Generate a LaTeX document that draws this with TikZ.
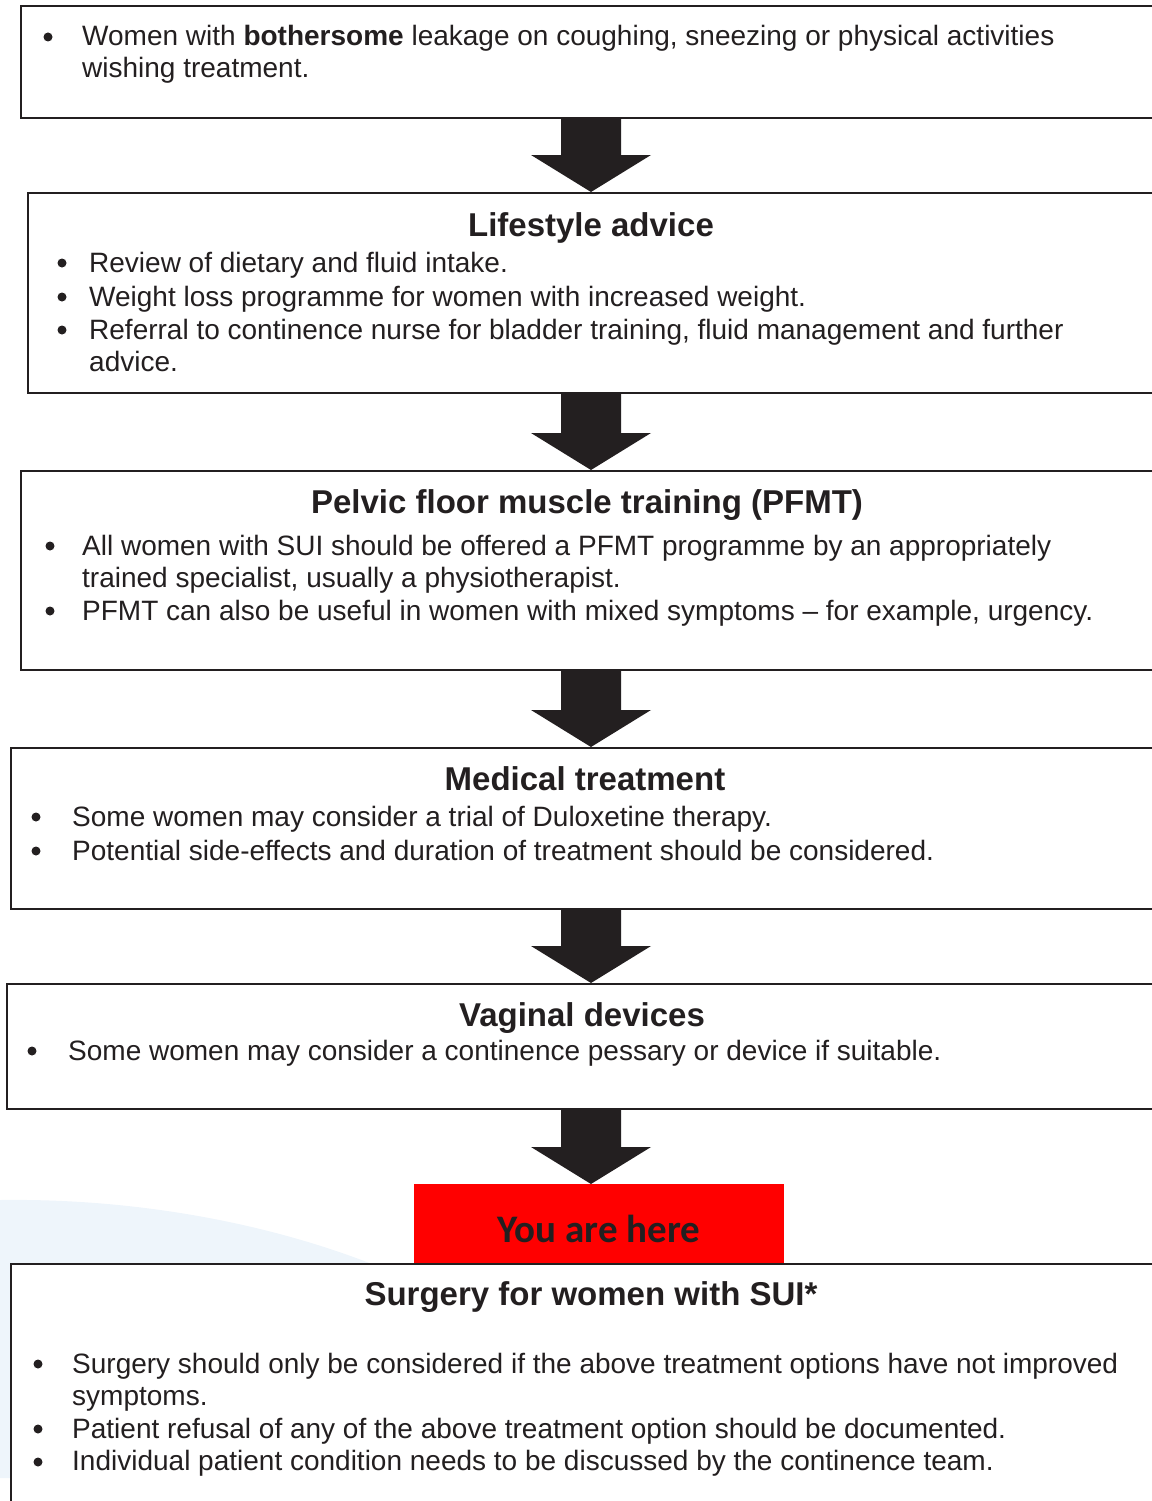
\documentclass[tikz,border=0pt]{standalone}
\usepackage{fontspec}
\setmainfont{Liberation Sans}
\newfontfamily\carl{Carlito}
\usetikzlibrary{calc}
\definecolor{ink}{HTML}{231F20}
\definecolor{paleblue}{HTML}{EEF5FB}
\definecolor{alarm}{HTML}{FF0000}
\tikzset{
  flowbox/.style={draw=ink, line width=2pt, fill=white, rectangle, anchor=north west, inner sep=0pt},
  bodytext/.style={anchor=base west, inner sep=0pt, text=ink, font=\fontsize{28}{33}\selectfont},
  headtext/.style={anchor=base, inner sep=0pt, text=ink, font=\fontsize{33}{38}\selectfont\bfseries},
  bulletdot/.style={circle, fill=ink, inner sep=0pt, minimum size=9pt},
  herebox/.style={fill=alarm, rectangle, anchor=north west, inner sep=0pt},
  heretext/.style={anchor=base, inner sep=0pt, text=ink, font=\carl\fontsize{39}{44}\selectfont\bfseries}
}
\newcommand{\bigdownarrow}[2]{%
  \fill[ink] let \p1=(#1.south -| ax), \p2=(#2.north -| ax) in
    (\x1-30pt,\y1) -- (\x1+30pt,\y1) -- (\x1+30pt,\y2+37pt) -- (\x1+60pt,\y2+37pt)
    -- (\x2,\y2) -- (\x1-60pt,\y2+37pt) -- (\x1-30pt,\y2+37pt) -- cycle;}
\begin{document}
\begin{tikzpicture}[x=1pt,y=-1pt]
\useasboundingbox (0,0) rectangle (1151,1501);
\coordinate (ax) at (591,0);
% pale background shape
\fill[paleblue] (0,1200) .. controls (150,1198) and (280,1228) .. (372,1264) -- (372,1478) -- (0,1478) -- cycle;

% boxes
\node[flowbox, minimum width=1140pt, minimum height=112pt] (b1) at (20,5) {};
\node[flowbox, minimum width=1133pt, minimum height=200pt] (b2) at (27,192) {};
\node[flowbox, minimum width=1140pt, minimum height=199pt] (b3) at (20,470) {};
\node[flowbox, minimum width=1150pt, minimum height=161pt] (b4) at (10,747) {};
\node[flowbox, minimum width=1154pt, minimum height=125pt] (b5) at (6,983) {};
\node[herebox, minimum width=370pt, minimum height=79pt] (here) at (414,1184) {};
\node[flowbox, minimum width=1150pt, minimum height=260pt] (b6) at (10,1263) {};

% arrows
\bigdownarrow{b1}{b2}
\bigdownarrow{b2}{b3}
\bigdownarrow{b3}{b4}
\bigdownarrow{b4}{b5}
\bigdownarrow{b5}{here}

% box 1
\node[bulletdot] (d11) at (48,37) {};
\node[bodytext] (t11) at (82,46) {Women with \textbf{bothersome} leakage on coughing, sneezing or physical activities};
\node[bodytext] (t12) at (82,78) {wishing treatment.};

% box 2
\node[headtext] (h2) at (591,236) {Lifestyle advice};
\node[bulletdot] (d21) at (62,263) {};
\node[bodytext] (t21) at (89,272) {Review of dietary and fluid intake.};
\node[bulletdot] (d22) at (62,297) {};
\node[bodytext] (t22) at (89,306) {Weight loss programme for women with increased weight.};
\node[bulletdot] (d23) at (62,330) {};
\node[bodytext] (t23) at (89,339) {Referral to continence nurse for bladder training, fluid management and further};
\node[bodytext] (t24) at (89,371) {advice.};

% box 3
\node[headtext] (h3) at (587,513) {Pelvic floor muscle training (PFMT)};
\node[bulletdot] (d31) at (50,546) {};
\node[bodytext] (t31) at (82,555) {All women with SUI should be offered a PFMT programme by an appropriately};
\node[bodytext] (t32) at (82,587) {trained specialist, usually a physiotherapist.};
\node[bulletdot] (d32) at (50,611) {};
\node[bodytext] (t33) at (82,620) {PFMT can also be useful in women with mixed symptoms – for example, urgency.};

% box 4
\node[headtext] (h4) at (585,790) {Medical treatment};
\node[bulletdot] (d41) at (36,817) {};
\node[bodytext] (t41) at (72,826) {Some women may consider a trial of Duloxetine therapy.};
\node[bulletdot] (d42) at (36,851) {};
\node[bodytext] (t42) at (72,860) {Potential side-effects and duration of treatment should be considered.};

% box 5
\node[headtext] (h5) at (582,1026) {Vaginal devices};
\node[bulletdot] (d51) at (32,1051) {};
\node[bodytext] (t51) at (68,1060) {Some women may consider a continence pessary or device if suitable.};

% you are here
\node[heretext] (ht) at (599,1242) {You are here};

% box 6
\node[headtext] (h6) at (591,1305) {Surgery for women with SUI*};
\node[bulletdot] (d61) at (38,1364) {};
\node[bodytext] (t61) at (72,1373) {Surgery should only be considered if the above treatment options have not improved};
\node[bodytext] (t62) at (72,1405) {symptoms.};
\node[bulletdot] (d62) at (38,1429) {};
\node[bodytext] (t63) at (72,1438) {Patient refusal of any of the above treatment option should be documented.};
\node[bulletdot] (d63) at (38,1462) {};
\node[bodytext] (t64) at (72,1470) {Individual patient condition needs to be discussed by the continence team.};
\end{tikzpicture}
\end{document}
